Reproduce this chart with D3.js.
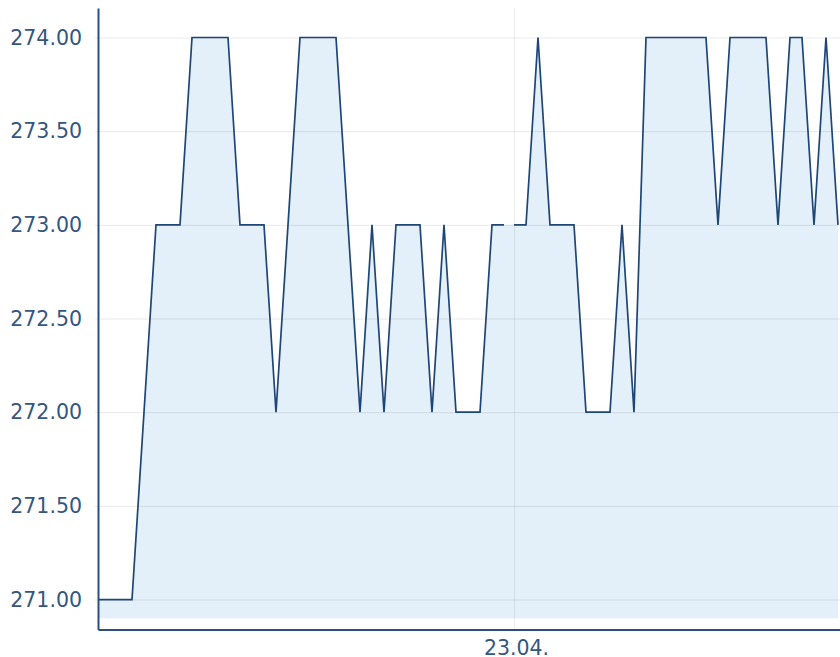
<!DOCTYPE html>
<html>
<head>
<meta charset="utf-8">
<script src="https://cdn.jsdelivr.net/npm/d3@7"></script>
<style>
    body { margin: 0; background: #fff; }
    .axis text { font-family: "DejaVu Sans", Verdana, sans-serif; font-size: 20.5px; fill: #34567f; }
</style>
</head>
<body>
<script>
// Day 1 (22.04.) quotes, one every 30 minutes
const day1Times = ["06:35", "07:05", "07:35", "08:05", "08:35", "09:05", "09:35", "10:05", "10:35",
    "11:05", "11:35", "12:05", "12:35", "13:05", "13:35", "14:05", "14:35", "15:05", "15:35", "16:05",
    "16:35", "17:05", "17:35", "18:05", "18:35", "19:05", "19:35", "20:05", "20:35", "21:05", "21:35",
    "22:05", "22:35", "23:05", "23:35"];
const day1Prices = [271, 271, 271, 271, 272, 273, 273, 273, 274, 274, 274, 274, 273, 273, 273, 272,
    273, 274, 274, 274, 274, 273, 272, 273, 272, 273, 273, 273, 272, 273, 272, 272, 272, 273, 273];

// Day 2 (23.04.)
const day2Times = ["00:00", "00:30", "01:00", "01:30", "02:00", "02:30", "03:00", "03:30", "04:00",
    "04:30", "05:00", "05:30", "06:00", "06:30", "07:00", "07:30", "08:00", "08:30", "09:00", "09:30",
    "10:00", "10:30", "11:00", "11:30", "12:00", "12:30", "13:00", "13:30"];
const day2Prices = [273, 273, 274, 273, 273, 273, 272, 272, 272, 273, 272, 274, 274, 274, 274, 274,
    274, 273, 274, 274, 274, 274, 273, 274, 274, 273, 274, 273];

const yTicks = [271, 271.5, 272, 272.5, 273, 273.5, 274];
const xTicks = ["2024-04-23T00:00"];

const parse = d3.timeParse("%Y-%m-%dT%H:%M");
const seg1 = day1Times.map((t, i) => ({ date: parse("2024-04-22T" + t), value: day1Prices[i] }));
const seg2 = day2Times.map((t, i) => ({ date: parse("2024-04-23T" + t), value: day2Prices[i] }));
const allPoints = seg1.concat(seg2);

// Plot area
const margin = { top: 8, right: 0, bottom: 27.5, left: 98 };
const W = 840, H = 657;
const width = W - margin.left - margin.right;
const height = H - margin.top - margin.bottom;

const svg = d3.select("body")
    .append("svg")
    .attr("width", W)
    .attr("height", H);

const g = svg.append("g")
    .attr("transform", `translate(${margin.left},${margin.top})`);

// Scales
const xScale = d3.scaleTime()
    .domain([parse("2024-04-22T06:40"), parse("2024-04-23T13:35")])
    .range([0, width]);
const yScale = d3.scaleLinear()
    .domain([270.84, 274.1575])
    .range([height, 0]);
const baseline = 270.9;

g.append("clipPath")
    .attr("id", "plot-clip")
    .append("rect")
    .attr("width", width)
    .attr("height", height);

// Area fill
const area = d3.area()
    .x(d => xScale(d.date))
    .y0(yScale(baseline))
    .y1(d => yScale(d.value));

g.append("path")
    .datum(allPoints)
    .attr("clip-path", "url(#plot-clip)")
    .attr("d", area)
    .style("fill", "#e3eff9");

// Gridlines
g.append("g")
    .call(d3.axisLeft(yScale).tickValues(yTicks).tickSize(-width - 3).tickFormat(""))
    .attr("transform", "translate(-3,0)")
    .call(s => s.select(".domain").remove())
    .selectAll("line")
    .style("stroke", "rgba(0,0,0,0.09)");

g.append("g")
    .call(d3.axisBottom(xScale).tickValues(xTicks.map(parse)).tickSize(height).tickFormat(""))
    .call(s => s.select(".domain").remove())
    .selectAll("line")
    .style("stroke", "rgba(0,0,0,0.07)");

// Price line, broken over the night
const line = d3.line()
    .x(d => xScale(d.date))
    .y(d => yScale(d.value));

g.selectAll(".price-line")
    .data([seg1, seg2])
    .enter()
    .append("path")
    .attr("class", "price-line")
    .attr("clip-path", "url(#plot-clip)")
    .attr("d", line)
    .style("fill", "none")
    .style("stroke", "#1e4677")
    .style("stroke-width", 1.7);

// Axes
const yAxis = g.append("g")
    .attr("class", "axis")
    .call(d3.axisLeft(yScale).tickValues(yTicks).tickSize(0).tickPadding(16).tickFormat(d3.format(".2f")));

const xAxis = g.append("g")
    .attr("class", "axis")
    .attr("transform", `translate(0,${height})`)
    .call(d3.axisBottom(xScale).tickValues(xTicks.map(parse)).tickSize(0).tickPadding(11)
        .tickFormat(d3.timeFormat("%d.%m.")));
xAxis.selectAll("text").attr("dx", 2);

[yAxis, xAxis].forEach(a => a.select(".domain")
    .style("stroke", "#2c4f7c")
    .style("stroke-width", 2));
</script>
</body>
</html>
